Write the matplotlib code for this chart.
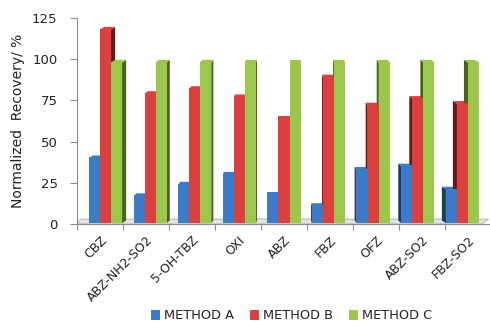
import numpy as np
import matplotlib.pyplot as plt
from matplotlib.patches import Polygon, Patch

plt.rcParams['font.family'] = ['DejaVu Sans']

compounds = ['CBZ', 'ABZ-NH2-SO2', '5-OH-TBZ', 'OXI', 'ABZ', 'FBZ', 'OFZ', 'ABZ-SO2', 'FBZ-SO2']
method_a = [40, 17, 24, 30, 18, 11, 33, 35, 21]
method_b = [118, 79, 82, 77, 64, 89, 72, 76, 73]
method_c = [98, 98, 98, 98, 98, 98, 98, 98, 98]
series_names = ['METHOD A', 'METHOD B', 'METHOD C']

front_cols = ['#3b7bc8', '#dc3f3f', '#9bc84a']
side_cols = ['#1d3c63', '#661818', '#46631d']

fig = plt.figure(figsize=(4.9, 3.23), dpi=100)
ax = fig.add_axes([77 / 490, 99 / 323, 414 / 490, 206 / 323])
ax.set_xlim(-0.5, 8.5)
ax.set_ylim(0, 125)

# floor of the 3d chart
floor = Polygon([(-0.5, 0), (8.3, 0), (8.45, 3.0), (-0.42, 3.0)], closed=True,
                facecolor='#e4e4e4', edgecolor='#b4b4b4', lw=0.7, zorder=1)
ax.add_patch(floor)

w = 0.24
dy = 1.6
for i in range(len(compounds)):
    start = i - 0.24 - 0.03 * i
    # side depth: right faces on the left half, left faces on the right half
    dx = (4 - i) * 0.022
    vals = [method_a[i], method_b[i], method_c[i]]
    order = [0, 1, 2] if dx >= 0 else [2, 1, 0]
    for k in order:
        x0 = start + k * w
        x1 = x0 + w
        v = vals[k]
        if dx > 0:
            side = [(x1, 0.5), (x1 + dx, 0.5 + dy), (x1 + dx, v + dy), (x1, v)]
        else:
            side = [(x0, 0.5), (x0 + dx, 0.5 + dy), (x0 + dx, v + dy), (x0, v)]
        if dx != 0:
            ax.add_patch(Polygon(side, closed=True, facecolor=side_cols[k],
                                 edgecolor='none', zorder=2 + k * 0.1))
        top = [(x0, v), (x1, v), (x1 + dx, v + dy), (x0 + dx, v + dy)]
        ax.add_patch(Polygon(top, closed=True, facecolor=front_cols[k],
                             edgecolor='none', zorder=2 + k * 0.1))
    for k in range(3):
        x0 = start + k * w
        ax.bar(x0, vals[k], width=w, bottom=0.5, align='edge', color=front_cols[k],
               edgecolor='none', zorder=3)

for s in ['top', 'right']:
    ax.spines[s].set_visible(False)
ax.spines['left'].set_color('#8c8c8c')
ax.spines['bottom'].set_color('#8c8c8c')

ax.set_yticks([0, 25, 50, 75, 100, 125])
ax.tick_params(axis='y', colors='#8c8c8c', labelcolor='#222222', labelsize=9.5,
               length=5, pad=9)
ax.set_xticks(np.arange(-0.5, 8.5, 1), minor=False)
ax.set_xticklabels([])
ax.tick_params(axis='x', colors='#8c8c8c', length=4)
ax.set_xticks(np.arange(len(compounds)), minor=True)
ax.set_xticklabels(compounds, minor=True, rotation=45, ha='right',
                   rotation_mode='anchor', fontsize=9, color='#222222')
ax.tick_params(axis='x', which='minor', length=0, pad=7)

ax.set_ylabel('Normalized  Recovery/ %', fontsize=10, color='#222222')
ax.yaxis.set_label_coords(-0.125, 0.5)

handles = [Patch(facecolor=c, label=n) for c, n in zip(front_cols, series_names)]
fig.legend(handles=handles, loc='center', bbox_to_anchor=(0.595, 0.022), ncol=3,
           frameon=False, fontsize=9.3, handlelength=0.75, handleheight=0.75,
           handletextpad=0.3, columnspacing=1.2, labelcolor='#222222')

fig.savefig('out.png', dpi=100)
